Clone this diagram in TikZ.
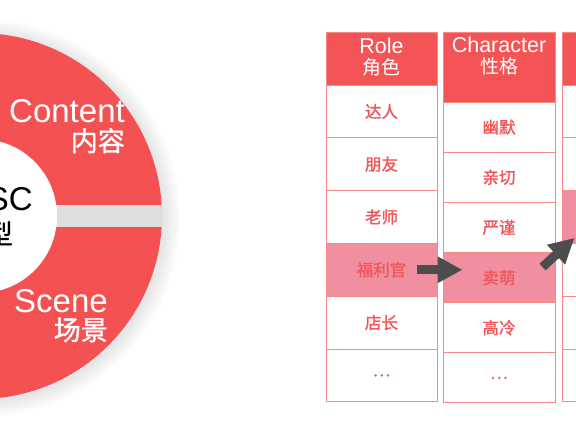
\documentclass[tikz,border=0pt]{standalone}
\usepackage{fontspec}
\setmainfont{Liberation Sans}
\newfontfamily\cjk{Noto Sans CJK SC}
\newfontfamily\cjkb[FakeBold=1.2]{Noto Sans CJK SC}
\usetikzlibrary{arrows.meta,calc}
\definecolor{ringred}{HTML}{F45153}
\definecolor{hdrred}{HTML}{F45455}
\definecolor{cellline}{HTML}{F7898B}
\definecolor{hlpink}{HTML}{EF8F9F}
\definecolor{celltext}{HTML}{F1565B}
\definecolor{arrowgray}{HTML}{4D4D4D}
\begin{document}
\begin{tikzpicture}[x=1pt,y=-1pt,
  cellbox/.style={draw=cellline, line width=1pt, fill=white, minimum width=111pt, minimum height=52.8pt, inner sep=0pt, text=celltext, font=\cjkb\fontsize{16.5}{18}\selectfont},
  cellboxb/.style={cellbox, minimum width=112pt, minimum height=50.17pt},
  hlcell/.style={fill=hlpink},
  hdrbox/.style={draw=cellline, line width=1pt, fill=hdrred, minimum width=111pt, inner sep=0pt},
  hdrtext/.style={text=white, align=center, inner sep=0pt, font=\fontsize{21.5}{21}\selectfont},
  ringtext/.style={text=white, inner sep=0pt, font=\fontsize{33}{36}\selectfont},
  ringcjk/.style={text=white, inner sep=0pt, font=\cjkb\fontsize{27}{30}\selectfont},
  bigarrow/.style={draw=arrowgray, line width=9pt, -{Triangle[length=25pt,width=25pt]}}
]
\useasboundingbox (0,0) rectangle (576,432);
\clip (0,0) rectangle (576,432);
\fill[white] (0,0) rectangle (576,432);

% ---- ring: soft shadow ----
\foreach \i in {1,...,8}{
  \fill[black, opacity=0.012] (-19,218) circle ({183+2*\i});
}
\fill[white] (-21,216) circle (183);
% gap shadow
\begin{scope}
  \clip (-21,216) circle (184);
  \fill[gray!26] (-220,205) rectangle (200,227);
\end{scope}
% ring halves
\begin{scope}
  \clip (-21,216) circle (183);
  \fill[ringred] (-220,0) rectangle (200,205);
  \fill[ringred] (-220,227) rectangle (200,432);
\end{scope}
% inner circle
\fill[white] (-20,216) circle (77);

% ring texts
\node[ringtext, anchor=base east] (content) at (125,122) {Content};
\node[ringcjk, anchor=base east] (contentcn) at (125,151) {内容};
\node[ringtext, anchor=base east] (scene) at (108,312) {Scene};
\node[ringcjk, anchor=base east] (scenecn) at (108,340) {场景};
\node[text=black, inner sep=0pt, font=\fontsize{33}{36}\selectfont, anchor=base east] (sc) at (33,210) {SC};
\node[text=black, inner sep=0pt, font=\cjkb\fontsize{27}{30}\selectfont, anchor=base east] (xing) at (13,244) {型};

% ---- column 1 : Role ----
\node[hdrbox, minimum height=53pt] (h1) at (381.5,58.5) {};
\node[hdrtext] (h1t) at (381.5,57.5) {Role\\{\cjk\fontsize{19}{21}\selectfont 角色}};
\node[cellbox] (c1r1) at (381.5,111.4) {达人};
\node[cellbox] (c1r2) at (381.5,164.2) {朋友};
\node[cellbox] (c1r3) at (381.5,217.0) {老师};
\node[cellbox, hlcell] (c1r4) at (381.5,269.8) {福利官};
\node[cellbox] (c1r5) at (381.5,322.6) {店长};
\node[cellbox] (c1r6) at (381.5,375.4) {…};

% ---- column 2 : Character ----
\node[hdrbox, minimum width=112pt, minimum height=70pt] (h2) at (499,67) {};
\node[hdrtext] (h2t) at (499,55.5) {Character\\{\cjk\fontsize{19}{21}\selectfont 性格}};
\node[cellboxb] (c2r1) at (499,127.1) {幽默};
\node[cellboxb] (c2r2) at (499,177.25) {亲切};
\node[cellboxb] (c2r3) at (499,227.4) {严谨};
\node[cellboxb, hlcell] (c2r4) at (499,277.6) {卖萌};
\node[cellboxb] (c2r5) at (499,327.75) {高冷};
\node[cellboxb] (c2r6) at (499,377.9) {…};

% ---- column 3 (cut off) ----
\node[hdrbox, minimum height=53pt] (h3) at (617.5,58.5) {};
\node[cellbox] (c3r1) at (617.5,111.4) {};
\node[cellbox] (c3r2) at (617.5,164.2) {};
\node[cellbox, hlcell] (c3r3) at (617.5,217.0) {};
\node[cellbox] (c3r4) at (617.5,269.8) {};
\node[cellbox] (c3r5) at (617.5,322.6) {};
\node[cellbox] (c3r6) at (617.5,375.4) {};

% ---- arrows ----
\draw[bigarrow] ([xshift=-21pt]c1r4.east) -- ([xshift=20pt]c2r4.west |- c1r4.east);
\draw[bigarrow] ([xshift=-13pt,yshift=-15pt]c2r4.north east) -- ([xshift=13pt,yshift=6pt]c3r3.south west);
\end{tikzpicture}
\end{document}
